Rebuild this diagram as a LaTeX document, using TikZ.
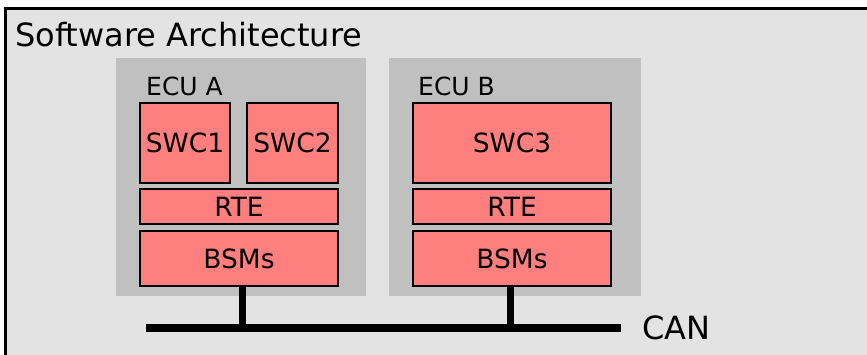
\documentclass[tikz,border=0pt]{standalone}
\usepackage{fontspec}
\setmainfont{DejaVu Sans}
\definecolor{outerbg}{HTML}{E3E3E3}
\definecolor{ecubg}{HTML}{C0C0C0}
\definecolor{swcred}{HTML}{FF7F7F}
\begin{document}
\begin{tikzpicture}[x=1pt,y=-1pt,
  layerbox/.style={fill=swcred, draw=black, line width=2pt},
  lbl/.style={font=\fontsize{26.5}{30}\selectfont, inner sep=0pt},
  ecutitle/.style={anchor=base west, inner sep=0pt, font=\fontsize{25}{28}\selectfont},
  bus/.style={line width=8pt},
  stub/.style={line width=7pt}]
\useasboundingbox (0,0) rectangle (867,354);
\begin{scope}
\clip (0,0) rectangle (867,354);
\fill[white] (0,0) rectangle (867,354);
\draw[fill=outerbg, line width=3pt] (5,8) rectangle (900,400);
\end{scope}
\node[anchor=base west, inner sep=0pt, font=\fontsize{32}{36}\selectfont] (title) at (15,46) {Software Architecture};
% ECU boxes
\fill[ecubg] (116,58) rectangle (366,296);
\fill[ecubg] (389,58) rectangle (641,296);
\node[ecutitle] (ecua) at (146,95) {ECU A};
\node[ecutitle] (ecub) at (418,95) {ECU B};
% ECU A layers
\draw[layerbox] (140,103) rectangle (230,183);
\node[lbl] (swc1) at (185,143) {SWC1};
\draw[layerbox] (247,103) rectangle (338,183);
\node[lbl] (swc2) at (292.5,143) {SWC2};
\draw[layerbox] (140,189) rectangle (338,224);
\node[lbl] (rtea) at (239,207) {RTE};
\draw[layerbox] (140,231) rectangle (338,286);
\node[lbl] (bsma) at (239,259) {BSMs};
\coordinate (bsmabot) at (242,286);
% ECU B layers
\draw[layerbox] (413,103) rectangle (611,183);
\node[lbl] (swc3) at (512,143) {SWC3};
\draw[layerbox] (413,189) rectangle (611,224);
\node[lbl] (rteb) at (512,207) {RTE};
\draw[layerbox] (413,231) rectangle (611,286);
\node[lbl] (bsmb) at (512,259) {BSMs};
\coordinate (bsmbbot) at (510,286);
% CAN bus
\coordinate (busL) at (146,328);
\coordinate (busR) at (621,328);
\draw[bus] (busL) -- (busR);
\draw[stub] (bsmabot) -- (bsmabot |- busL);
\draw[stub] (bsmbbot) -- (bsmbbot |- busL);
\node[anchor=west, inner sep=0pt, font=\fontsize{32}{36}\selectfont] (can) at (642,328) {CAN};
\end{tikzpicture}
\end{document}
